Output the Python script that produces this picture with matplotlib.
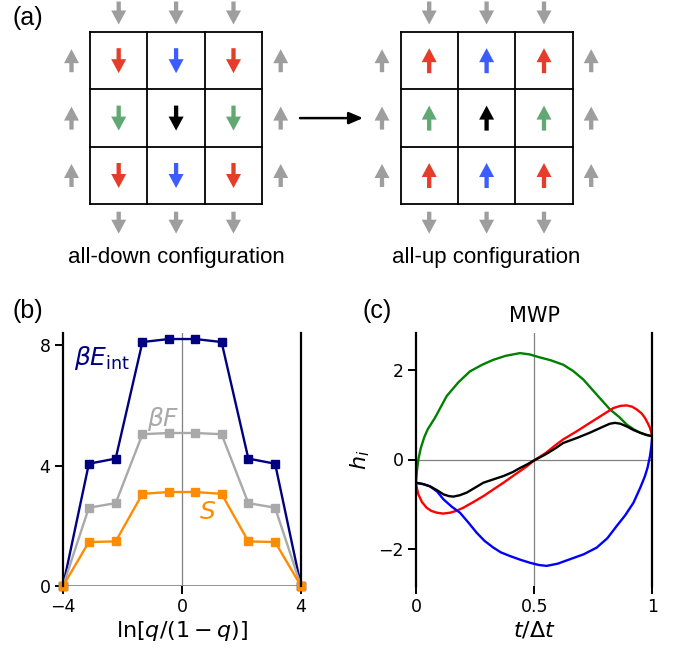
import numpy as np
import matplotlib
matplotlib.use("Agg")
import matplotlib.pyplot as plt

# ==========================================
# DATA
# ==========================================
# (a) spin lattice
cell_colors = [["#e63d2b", "#3d5cff", "#e63d2b"],
               ["#62a872", "black", "#62a872"],
               ["#e63d2b", "#3d5cff", "#e63d2b"]]
config_spin = [-1, +1]            # all-down, all-up
config_labels = ["all-down configuration", "all-up configuration"]
boundary_spin = {"top": -1, "bottom": -1, "left": +1, "right": +1}
GRAY = "#9e9e9e"

# (b) thermodynamics
xq = [-4, -3.13, -2.23, -1.33, -0.44, 0.44, 1.33, 2.23, 3.13, 4]
bE_int = [0, 4.06, 4.23, 8.10, 8.20, 8.20, 8.10, 4.23, 4.06, 0]
bF = [0, 2.60, 2.75, 5.04, 5.08, 5.08, 5.04, 2.75, 2.60, 0]
S = [0, 1.46, 1.48, 3.06, 3.12, 3.12, 3.06, 1.48, 1.46, 0]

# (c) MWP fields
t_green = [0, 0.004, 0.01, 0.02, 0.035, 0.05, 0.08, 0.13, 0.18, 0.228, 0.28, 0.327,
           0.38, 0.44, 0.482, 0.52, 0.57, 0.623, 0.665, 0.708, 0.765, 0.821, 0.86,
           0.892, 0.92, 0.948, 0.975, 1.0]
h_green = [-0.52, -0.25, 0.0, 0.25, 0.5, 0.68, 0.93, 1.42, 1.73, 1.97, 2.12, 2.23,
           2.32, 2.38, 2.35, 2.29, 2.22, 2.12, 1.98, 1.79, 1.45, 1.12, 0.95,
           0.78, 0.68, 0.60, 0.55, 0.52]

t_blue = [0, 0.03, 0.059, 0.09, 0.116, 0.15, 0.186, 0.22, 0.257, 0.29, 0.327, 0.36,
          0.398, 0.44, 0.482, 0.52, 0.553, 0.6, 0.652, 0.71, 0.765, 0.81, 0.849,
          0.885, 0.92, 0.95, 0.969, 0.98, 0.99, 0.996, 1.0]
h_blue = [-0.52, -0.55, -0.60, -0.72, -0.89, -1.05, -1.19, -1.40, -1.64, -1.82, -1.97, -2.08,
          -2.16, -2.24, -2.31, -2.36, -2.38, -2.33, -2.23, -2.12, -1.97, -1.76, -1.49,
          -1.25, -0.97, -0.62, -0.37, -0.18, 0.07, 0.3, 0.52]

t_red = [0, 0.004, 0.01, 0.025, 0.045, 0.065, 0.088, 0.115, 0.144, 0.17, 0.2, 0.24,
         0.285, 0.33, 0.37, 0.41, 0.44, 0.47, 0.5, 0.55, 0.59, 0.623, 0.68, 0.736,
         0.79, 0.835, 0.865, 0.892, 0.915, 0.934, 0.955, 0.969, 0.98, 0.99, 1.0]
h_red = [-0.52, -0.65, -0.78, -0.95, -1.08, -1.15, -1.19, -1.21, -1.19, -1.15, -1.08, -0.96,
         -0.82, -0.66, -0.52, -0.37, -0.26, -0.15, -0.02, 0.15, 0.32, 0.45, 0.63, 0.82,
         1.0, 1.15, 1.20, 1.21, 1.18, 1.12, 1.03, 0.93, 0.82, 0.71, 0.52]

t_black = [0, 0.03, 0.059, 0.09, 0.116, 0.14, 0.158, 0.185, 0.215, 0.25, 0.285, 0.33,
           0.37, 0.41, 0.44, 0.47, 0.5, 0.55, 0.59, 0.623, 0.68, 0.736, 0.79, 0.82,
           0.842, 0.865, 0.892, 0.92, 0.948, 0.975, 1.0]
h_black = [-0.52, -0.55, -0.60, -0.69, -0.78, -0.82, -0.83, -0.80, -0.74, -0.63, -0.52, -0.44,
           -0.37, -0.28, -0.19, -0.11, -0.02, 0.12, 0.25, 0.37, 0.48, 0.60, 0.73, 0.80,
           0.82, 0.80, 0.74, 0.66, 0.60, 0.55, 0.52]

# ==========================================
# FIGURE
# ==========================================
W, H = 674, 651
fig = plt.figure(figsize=(W / 100, H / 100), dpi=100)
plt.rc("font", size=12)
TXT = ["Liberation Sans", "DejaVu Sans"]

# ------------------------------------------
# (a) lattice sketch, in pixel units
# ------------------------------------------
ax_a = fig.add_axes([0, 1 - 300 / H, 1, 300 / H])
ax_a.set_xlim(0, W)
ax_a.set_ylim(300, 0)
ax_a.set_aspect("equal")
ax_a.axis("off")

cell = 57.4
grid_y0 = 32
grid_x0 = [90, 400.5]


def spin_arrow(x, y, s, color, length=25):
    # s=+1 -> up (negative pixel y), s=-1 -> down
    dy = -length * s
    ax_a.arrow(x, y - dy / 2, 0, dy, width=4.3, head_width=15, head_length=14,
               length_includes_head=True, color=color, lw=0)


for k, x0 in enumerate(grid_x0):
    s = config_spin[k]
    for i in range(4):
        ax_a.plot([x0 + i * cell] * 2, [grid_y0, grid_y0 + 3 * cell], color="black", lw=1.3)
        ax_a.plot([x0, x0 + 3 * cell], [grid_y0 + i * cell] * 2, color="black", lw=1.3)
    for r in range(3):
        for c in range(3):
            spin_arrow(x0 + (c + 0.5) * cell, grid_y0 + (r + 0.5) * cell, s, cell_colors[r][c])
    for j in range(3):
        cx = x0 + (j + 0.5) * cell
        cy = grid_y0 + (j + 0.5) * cell
        spin_arrow(cx, grid_y0 - 19, boundary_spin["top"], GRAY, 23)
        spin_arrow(cx, grid_y0 + 3 * cell + 18.5, boundary_spin["bottom"], GRAY, 22)
        spin_arrow(x0 - 18.5, cy, boundary_spin["left"], GRAY, 23)
        spin_arrow(x0 + 3 * cell + 18.5, cy, boundary_spin["right"], GRAY, 23)
    ax_a.text(x0 + 1.5 * cell, 258, config_labels[k], ha="center", va="center",
              fontsize=16, family=TXT)

ax_a.annotate("", xy=(363, grid_y0 + 1.5 * cell), xytext=(300, grid_y0 + 1.5 * cell),
              arrowprops=dict(arrowstyle="-|>,head_length=0.7,head_width=0.3",
                              color="black", lw=1.8, shrinkA=0, shrinkB=0))

# ------------------------------------------
# common axis styling
# ------------------------------------------
def style(ax):
    for side in ["top", "bottom"]:
        ax.spines[side].set_visible(False)
    for side in ["left", "right"]:
        ax.spines[side].set_linewidth(1.6)
        ax.spines[side].set_color("black")
    ax.tick_params(axis="both", length=5.5, width=1.4, labelsize=12.5, direction="out")
    ax.tick_params(axis="y", right=False)


# ------------------------------------------
# (b)
# ------------------------------------------
ax_b = fig.add_axes([63 / W, 1 - 586 / H, 238 / W, 253 / H])
ax_b.axvline(0, color="gray", lw=0.9, zorder=0)
ax_b.axhline(0, color="gray", lw=1.2, zorder=0)
ax_b.plot(xq, bE_int, "-s", color="navy", lw=1.7, ms=5.2, clip_on=False)
ax_b.plot(xq, bF, "-s", color="darkgray", lw=1.7, ms=5.2, clip_on=False)
ax_b.plot(xq, S, "-s", color="darkorange", lw=1.7, ms=5.2, clip_on=False)
ax_b.set_xlim(-4, 4)
ax_b.set_ylim(0, 8.4)
ax_b.set_xticks([-4, 0, 4])
ax_b.set_yticks([0, 4, 8])
style(ax_b)
ax_b.set_xlabel(r"$\ln[q/(1-q)]$", fontsize=16, labelpad=2)
ax_b.text(-3.62, 7.58, r"$\beta E_{\rm int}$", color="navy", fontsize=18, ha="left", va="center")
ax_b.text(-1.16, 5.56, r"$\beta F$", color="darkgray", fontsize=18, ha="left", va="center")
ax_b.text(0.58, 2.45, r"$S$", color="darkorange", fontsize=18, ha="left", va="center")

# ------------------------------------------
# (c)
# ------------------------------------------
ax_c = fig.add_axes([416 / W, 1 - 586 / H, 236.3 / W, 253 / H])
ax_c.axvline(0.5, color="gray", lw=0.9, zorder=0)
ax_c.axhline(0, color="gray", lw=0.9, zorder=0)
ax_c.plot(t_green, h_green, color="green", lw=1.7)
ax_c.plot(t_red, h_red, color="red", lw=1.7)
ax_c.plot(t_blue, h_blue, color="blue", lw=1.7)
ax_c.plot(t_black, h_black, color="black", lw=1.7)
ax_c.set_xlim(0, 1)
ax_c.set_ylim(-2.83, 2.83)
ax_c.set_xticks([0, 0.5, 1])
ax_c.set_xticklabels(["0", "0.5", "1"])
ax_c.set_yticks([-2, 0, 2])
style(ax_c)
ax_c.set_xlabel(r"$t/\Delta t$", fontsize=16, labelpad=2)
ax_c.set_ylabel(r"$h_i$", fontsize=16, labelpad=4)
ax_c.set_title("MWP", fontsize=15, pad=8)

# panel labels
fig.text(13 / W, 1 - 18 / H, "(a)", fontsize=18, family=TXT, va="center")
fig.text(13 / W, 1 - 311 / H, "(b)", fontsize=18, family=TXT, va="center")
fig.text(362 / W, 1 - 311 / H, "(c)", fontsize=18, family=TXT, va="center")

plt.savefig("out.png", dpi=100)
